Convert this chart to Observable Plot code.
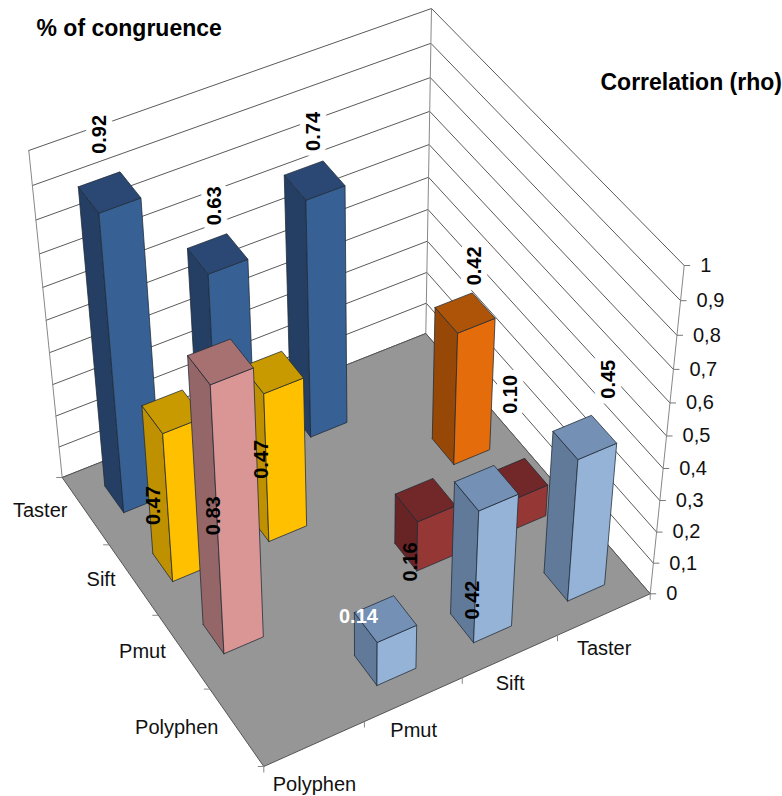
<!DOCTYPE html>
<html>
<head>
<meta charset="utf-8">
<style>
  html, body { margin: 0; padding: 0; background: #fff; overflow: hidden; }
</style>
<script src="https://cdn.jsdelivr.net/npm/d3@7"></script>
<script src="https://cdn.jsdelivr.net/npm/@observablehq/plot@0.6"></script>
</head>
<body>
<script>
// Predictors on the depth axis (back to front) and on the width axis (left to right).
const depthCategories = ["Taster", "Sift", "Pmut", "Polyphen"];
const widthCategories = ["Polyphen", "Pmut", "Sift", "Taster"];

// One entry per bar, back rows first so nearer bars paint over farther ones.
const barRows = ["Taster", "Taster", "Taster", "Sift", "Sift", "Sift", "Pmut", "Pmut", "Pmut", "Polyphen", "Polyphen", "Polyphen"];
const barCols = ["Sift", "Pmut", "Polyphen", "Taster", "Pmut", "Polyphen", "Taster", "Sift", "Polyphen", "Taster", "Sift", "Pmut"];
const barRho = [0.74, 0.63, 0.92, 0.42, 0.47, 0.47, 0.10, 0.16, 0.83, 0.45, 0.42, 0.14];
const valueTicks = [0, 0.1, 0.2, 0.3, 0.4, 0.5, 0.6, 0.7, 0.8, 0.9, 1];

// Shades per colour family: side facing right, side facing left, top.
const colorFamilies = {
  deepBlue: ["#376094", "#243f63", "#2b4874"],
  amber: ["#ffc000", "#bf9000", "#c99a00"],
  rose: ["#d99694", "#956667", "#a87171"],
  crimson: ["#953735", "#682325", "#722729"],
  orange: ["#e46c0a", "#974806", "#ae5408"],
  sky: ["#95b3d7", "#627a99", "#7590b5"]
};
const barFamilies = ["deepBlue", "deepBlue", "deepBlue", "orange", "amber", "amber", "crimson", "crimson", "rose", "sky", "sky", "sky"];

// Screen-space nudges of the value labels from the centre of each bar top.
const labelNudgeX = [-1, -3, -10, 10, -11, -19, -7, -15, -7, 24, -14, -27];
const labelNudgeY = [-49, -48, -58, -47, 87, 94, -85, 62, 154, -58, 112, -2];
const haloed = [true, true, true, true, false, false, true, false, false, true, false, false];

const frontLabelNudgeY = [41, 31, 27, 34];

// Camera: corners of the floor (w = 0) and of the plane w = 1, in the order
// back-left, front, right, back.
const floorQuad = [[61.7, 477], [263.3, 766], [649.7, 593.3], [425.3, 333]];
const ceilingQuad = [[28.3, 150], [251, 438], [683.7, 265], [431, 8]];
const depthRatio = 1.08;

function squareToQuad(q) {
  const [[x0, y0], [x1, y1], [x2, y2], [x3, y3]] = q;
  const sx = x0 - x1 + x2 - x3, sy = y0 - y1 + y2 - y3;
  const dx1 = x1 - x2, dx2 = x3 - x2, dy1 = y1 - y2, dy2 = y3 - y2;
  const den = dx1 * dy2 - dx2 * dy1;
  const g = (sx * dy2 - dx2 * sy) / den, h = (dx1 * sy - sx * dy1) / den;
  const a = x1 - x0 + g * x1, b = x3 - x0 + h * x3;
  const d = y1 - y0 + g * y1, e = y3 - y0 + h * y3;
  return (u, v) => {
    const w = g * u + h * v + 1;
    return [(a * u + b * v + x0) / w, (d * u + e * v + y0) / w];
  };
}
const onFloor = squareToQuad(floorQuad);
const onCeiling = squareToQuad(ceilingQuad);

// Maps depth p and width q (both 0..4) and a value w (0..1) to plot coordinates.
function project(p, q, w) {
  const [x0, y0] = onFloor(p / 4, q / 4);
  const [x1, y1] = onCeiling(p / 4, q / 4);
  const f = w / (w + (1 - w) * depthRatio);
  return [x0 + (x1 - x0) * f, y0 + (y1 - y0) * f];
}

const asPoint = ([x, y]) => ({x, y});
const halfBar = 0.2;

const bars = barRho.map((v, i) => ({
  p: depthCategories.indexOf(barRows[i]) + 0.5,
  q: widthCategories.indexOf(barCols[i]) + 0.5,
  v,
  shades: colorFamilies[barFamilies[i]],
  label: v.toFixed(2),
  nudgeX: labelNudgeX[i],
  nudgeY: labelNudgeY[i],
  haloed: haloed[i],
  white: v === 0.14
}));

// Each bar contributes its three visible faces as closed outlines.
const faces = bars.flatMap(({p, q, v, shades}, i) => {
  const a = p - halfBar, b = p + halfBar, c = q - halfBar, d = q + halfBar;
  const outlines = [
    {shade: shades[1], corners: [[a, c, 0], [b, c, 0], [b, c, v], [a, c, v]]},
    {shade: shades[0], corners: [[b, c, 0], [b, d, 0], [b, d, v], [b, c, v]]},
    {shade: shades[2], corners: [[a, c, v], [b, c, v], [b, d, v], [a, d, v]]}
  ];
  return outlines.flatMap(({shade, corners}, j) =>
    [...corners, corners[0]].map(([cp, cq, cw]) => ({...asPoint(project(cp, cq, cw)), face: `${i}-${j}`, shade}))
  );
});

const floor = [[0, 0], [4, 0], [4, 4], [0, 4], [0, 0]].map(([p, q]) => asPoint(project(p, q, 0)));

// Horizontal lines on the two walls, plus the three upright wall edges.
const gridLines = valueTicks.flatMap((w, i) =>
  [[0, 0], [0, 4], [4, 4]].map(([p, q]) => ({...asPoint(project(p, q, w)), id: i}))
);
const uprights = [[0, 0], [0, 4], [4, 4]].flatMap(([p, q], i) =>
  [0, 1].map((w) => ({...asPoint(project(p, q, w)), id: i}))
);

const valueLabels = valueTicks.map((w) => ({
  ...asPoint(project(4, 4, w)),
  text: String(w).replace(".", ",")
}));

const depthTicks = [0, 1, 2, 3, 4].map((p) => asPoint(project(p, 0, 0)));
const widthTicks = [0, 1, 2, 3, 4].map((q) => asPoint(project(4, q, 0)));

const depthLabels = depthCategories.map((text, i) => ({...asPoint(project(i + 0.5, 0, 0)), text}));
const widthLabels = widthCategories.map((text, i) => {
  const [x, y] = project(4, i + 0.5, 0);
  return {x, y: y + frontLabelNudgeY[i], text};
});

const labelData = bars.map((b) => {
  const [x, y] = project(b.p, b.q, b.v);
  return {x: x + b.nudgeX, y: y + b.nudgeY, label: b.label, haloed: b.haloed, white: b.white};
});

const headings = [
  {x: 36, y: 28, text: "% of congruence"},
  {x: 600, y: 82, text: "Correlation (rho)"}
];

const sans = "Liberation Sans, Arial, sans-serif";
const edgeColor = "#5a5a5a";

const chart = Plot.plot({
  width: 782,
  height: 796,
  margin: 0,
  style: {background: "#fff"},
  x: {domain: [0, 782], range: [0, 782], axis: null},
  y: {domain: [0, 796], range: [0, 796], axis: null},
  color: {type: "identity"},
  marks: [
    Plot.line(gridLines, {x: "x", y: "y", z: "id", stroke: edgeColor, strokeWidth: 1}),
    Plot.line(uprights, {x: "x", y: "y", z: "id", stroke: "#888", strokeWidth: 1}),
    Plot.link(valueLabels, {x1: "x", y1: "y", x2: (d) => d.x + 6, y2: "y", stroke: "#777"}),
    Plot.text(labelData.filter((d) => d.haloed), {
      x: "x", y: "y", text: "label", rotate: -90, fontFamily: sans, fontWeight: "bold", fontSize: 20,
      fill: "#fff", stroke: "#fff", strokeWidth: 12, strokeLinejoin: "miter"
    }),
    Plot.line(floor, {x: "x", y: "y", fill: "#969696", stroke: "#555", strokeWidth: 1}),
    Plot.link(depthTicks, {x1: "x", y1: "y", x2: (d) => d.x - 6, y2: "y", stroke: "#888"}),
    Plot.link(widthTicks, {x1: "x", y1: "y", x2: "x", y2: (d) => d.y + 6, stroke: "#888"}),
    Plot.line(faces, {x: "x", y: "y", z: "face", fill: "shade", stroke: "#1f2a36", strokeWidth: 0.9, strokeOpacity: 0.85}),
    Plot.text(labelData.filter((d) => !d.white), {
      x: "x", y: "y", text: "label", rotate: -90, fontFamily: sans, fontWeight: "bold", fontSize: 20, fill: "#000"
    }),
    Plot.text(labelData.filter((d) => d.white), {
      x: "x", y: "y", text: "label", fontFamily: sans, fontWeight: "bold", fontSize: 20, fill: "#fff"
    }),
    Plot.text(valueLabels, {
      x: "x", y: "y", text: "text", dx: 16, textAnchor: "start", fontFamily: sans, fontSize: 20, fill: "#111"
    }),
    Plot.text(depthLabels, {
      x: "x", y: "y", text: "text", dx: -18, textAnchor: "end", fontFamily: sans, fontSize: 20, fill: "#111"
    }),
    Plot.text(widthLabels, {
      x: "x", y: "y", text: "text", fontFamily: sans, fontSize: 20, fill: "#111"
    }),
    Plot.text(headings, {
      x: "x", y: "y", text: "text", textAnchor: "start", fontFamily: sans, fontWeight: "bold", fontSize: 23, fill: "#000"
    })
  ]
});
document.body.appendChild(chart);
</script>
</body>
</html>
